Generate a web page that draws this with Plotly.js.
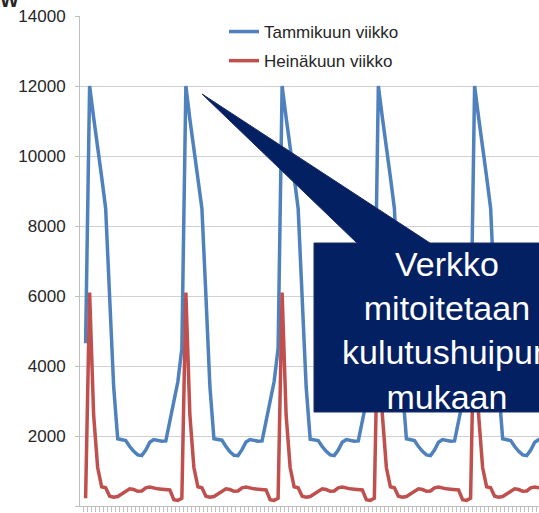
<!DOCTYPE html>
<html><head><meta charset="utf-8">
<script src="https://cdn.plot.ly/plotly-3.0.1.min.js"></script>
<style>html,body{margin:0;padding:0;overflow:hidden;background:#fff}#chart{width:539px;height:513px}</style>
</head><body><div id="chart"></div>
<script>
// Hourly consumption over one week (visible part), kW
const seriesNames = ["Tammikuun viikko", "Heinäkuun viikko"];
const tammikuu = [
  4650,12000,11100,10300,9400,8500,6000,3400,1920,1900,1870,1700,1560,1460,1440,1600,1820,1900,1870,1850,1860,2400,3000,3550,
  4500,12000,11050,10250,9400,8500,6000,3400,1920,1900,1880,1700,1550,1450,1440,1610,1830,1900,1870,1850,1860,2400,3000,3550,
  4500,12000,11100,10300,9400,8500,6000,3400,1910,1900,1870,1700,1560,1460,1440,1600,1820,1900,1870,1850,1860,2400,3000,3550,
  4500,12000,11100,10300,9400,8500,6000,3400,1920,1900,1870,1700,1560,1460,1440,1600,1820,1900,1870,1850,1860,2400,3000,3550,
  4500,12000,11100,10300,9400,8500,6000,3400,1920,1900,1870,1700,1560,1460,1440,1600,1820,1900,1880,1850
];
const heinakuu = [
  220,6100,2600,1100,550,520,280,250,270,340,420,490,470,420,430,520,540,510,490,480,470,460,180,160,
  220,6100,2600,1100,550,520,280,250,270,340,420,490,470,420,430,520,540,510,490,480,470,460,180,160,
  220,6100,2600,1100,550,520,280,250,270,340,420,490,470,420,430,520,540,510,490,480,470,460,180,160,
  220,6100,2600,1100,550,520,280,250,270,340,420,490,470,420,430,520,540,510,490,480,470,460,180,160,
  220,6100,2600,1100,550,520,280,250,270,340,420,490,470,420,430,520,540,510,490,480
];
const yTicks = [0,2000,4000,6000,8000,10000,12000,14000];
const calloutText = "Verkko<br>mitoitetaan<br>kulutushuipun<br>mukaan";
const unitText = "kW";

const hours = tammikuu.map((_, i) => i);

// layout helpers (pixel -> paper)
const L = 80, T = 16, W = 539, H = 513, B = 7;
const PW = W - L, PH = H - T - B;
const px = v => (v - L) / PW;
const py = v => (H - B - v) / PH;

const font = "Liberation Sans, Arial, sans-serif";

const traces = [
  {x: hours, y: tammikuu, name: seriesNames[0], type: "scatter", mode: "lines",
   line: {color: "#4F81BD", width: 3.5}, legendgroup: "a"},
  {x: hours, y: heinakuu, name: seriesNames[1], type: "scatter", mode: "lines",
   line: {color: "#C0504D", width: 3.5}, legendgroup: "b"}
];

const calloutPath = "M" + px(314) + "," + py(243) +
  " L" + px(357) + "," + py(243) +
  " L" + px(202) + "," + py(94) +
  " L" + px(430) + "," + py(243) +
  " L" + px(600) + "," + py(243) +
  " L" + px(600) + "," + py(412) +
  " L" + px(314) + "," + py(412) + " Z";

const layout = {
  width: W, height: H,
  margin: {l: L, r: 0, t: T, b: B, pad: 0},
  paper_bgcolor: "#fff", plot_bgcolor: "#fff",
  font: {family: font, color: "#262626"},
  showlegend: true,
  legend: {x: px(224), xanchor: "left", y: py(14), yanchor: "top",
           font: {size: 17, color: "#262626", family: font},
           bgcolor: "rgba(0,0,0,0)", tracegroupgap: 4},
  xaxis: {range: [-1.4, 113.06], showgrid: false, zeroline: false,
          showline: true, linecolor: "#bfbfbf", linewidth: 1,
          ticks: "outside", ticklen: 5, tickcolor: "#bfbfbf", tickwidth: 1,
          tick0: 0.5, dtick: 1, showticklabels: false, fixedrange: true},
  yaxis: {range: [0, 14000], tickvals: yTicks, ticktext: yTicks.map(String),
          showgrid: true, gridcolor: "#d0d0d0", gridwidth: 1, zeroline: false,
          showline: true, linecolor: "#bfbfbf", linewidth: 1,
          ticks: "outside", ticklen: 4, tickcolor: "#bfbfbf",
          tickfont: {size: 17, color: "#262626", family: font},
          ticklabelstandoff: 6, fixedrange: true},
  shapes: [
    {type: "path", xref: "paper", yref: "paper", path: calloutPath,
     fillcolor: "#032062", line: {color: "#1a2c66", width: 1}, layer: "above"}
  ],
  annotations: [
    {xref: "paper", yref: "paper", x: px(447), y: py(330), xanchor: "center", yanchor: "middle",
     text: calloutText, showarrow: false, align: "center",
     font: {size: 34, color: "#ffffff", family: font}},
    {xref: "paper", yref: "paper", x: px(21), y: py(13), xanchor: "right", yanchor: "bottom",
     text: "<b>" + unitText + "</b>", showarrow: false,
     font: {size: 20, color: "#262626", family: font}}
  ]
};

Plotly.newPlot("chart", traces, layout, {displayModeBar: false, staticPlot: true});
</script></body></html>
